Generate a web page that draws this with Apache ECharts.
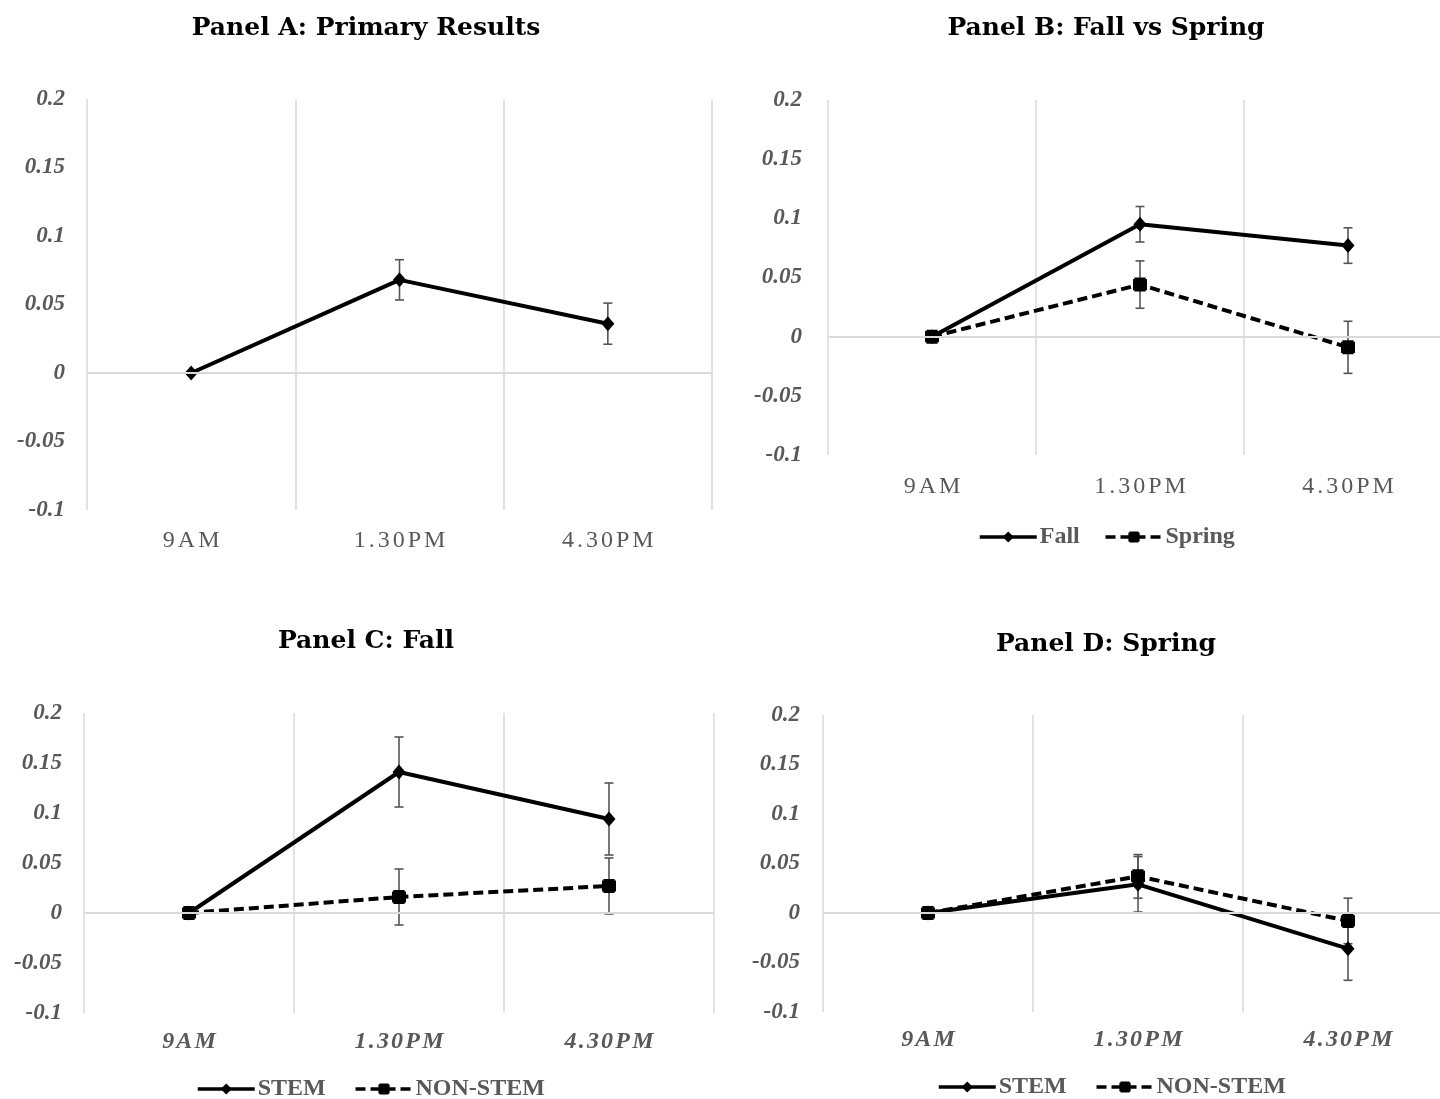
<!DOCTYPE html>
<html><head><meta charset="utf-8">
<script src="https://cdn.jsdelivr.net/npm/echarts@6/dist/echarts.min.js"></script>
<style>html,body{margin:0;padding:0;background:#fff;overflow:hidden}#c{width:1440px;height:1099px}</style>
</head><body><div id="c"></div>
<script>
// ---- data ----
const categories = ['9AM', '1.30PM', '4.30PM'];
const panelTitles = ['Panel A: Primary Results', 'Panel B: Fall vs Spring', 'Panel C: Fall', 'Panel D: Spring'];
const yMin = -0.1, yMax = 0.2, yStep = 0.05;

const primaryA = [0, 0.068, 0.036];
const primaryAErr = [0, 0.0147, 0.015];

const fallB = [0, 0.095, 0.077];
const fallBErr = [0, 0.015, 0.015];
const springB = [0, 0.044, -0.009];
const springBErr = [0, 0.020, 0.022];

const stemC = [0, 0.141, 0.094];
const stemCErr = [0, 0.035, 0.036];
const nonStemC = [0, 0.016, 0.027];
const nonStemCErr = [0, 0.028, 0.028];

const stemD = [0, 0.029, -0.036];
const stemDErr = [0, 0.028, 0.032];
const nonStemD = [0, 0.037, -0.008];
const nonStemDErr = [0, 0.022, 0.023];

// ---- styling helpers ----
const SERIF = 'Liberation Serif';
const GRID_COLOR = '#d9d9d9';
const LABEL_COLOR = '#595959';
const notchedSquare = 'path://M1,0H9V1H10V9H9V10H1V9H0V1H1Z';

function spaced(v) {
  return String(v).split('').map(function (c) { return '{s|' + c + '}'; }).join('');
}
function xAxis(gi, italic, margin, pad) {
  const base = {
    fontFamily: SERIF, fontSize: 24, color: LABEL_COLOR,
    fontStyle: italic ? 'italic' : 'normal', fontWeight: italic ? 'bold' : 'normal'
  };
  return {
    type: 'category', gridIndex: gi, data: categories, boundaryGap: true,
    axisLine: { show: false }, axisTick: { show: false, interval: 0 },
    splitLine: { show: true, interval: 0, lineStyle: { color: GRID_COLOR, width: 1.5 } },
    axisLabel: Object.assign({
      margin: margin, interval: 0, hideOverlap: false, formatter: spaced,
      rich: { s: Object.assign({ padding: [0, pad, 0, pad] }, base) }
    }, base)
  };
}
function yAxis(gi, margin) {
  return {
    type: 'value', gridIndex: gi, min: yMin, max: yMax, interval: yStep,
    axisLine: { show: false }, axisTick: { show: false }, splitLine: { show: false },
    axisLabel: {
      margin: margin, color: LABEL_COLOR, fontFamily: SERIF, fontSize: 23,
      fontStyle: 'italic', fontWeight: 'bold'
    }
  };
}
function lineSeries(gi, name, vals, dashed) {
  return {
    type: 'line', name: name, xAxisIndex: gi, yAxisIndex: gi, data: vals, z: 3,
    symbol: dashed ? notchedSquare : 'diamond',
    symbolSize: dashed ? 14 : [13, 15],
    itemStyle: { color: '#000' },
    lineStyle: { color: '#000', width: 4, type: dashed ? [10, 5] : 'solid' },
    emphasis: { disabled: true }, animation: false
  };
}
function errSeries(gi, vals, errs, withZero) {
  const s = {
    type: 'custom', xAxisIndex: gi, yAxisIndex: gi, z: 2, silent: true, animation: false,
    data: vals.map((v, i) => [i, v - errs[i], v + errs[i]]),
    encode: { x: 0, y: [1, 2] },
    renderItem: function (params, api) {
      const lo = api.coord([api.value(0), api.value(1)]);
      const hi = api.coord([api.value(0), api.value(2)]);
      if (Math.abs(hi[1] - lo[1]) < 0.5) return null;
      const x = lo[0], w = 4.5;
      const style = { stroke: '#555', lineWidth: 1.6 };
      return {
        type: 'group', children: [
          { type: 'line', shape: { x1: x, y1: lo[1], x2: x, y2: hi[1] }, style: style },
          { type: 'line', shape: { x1: x - w, y1: lo[1], x2: x + w, y2: lo[1] }, style: style },
          { type: 'line', shape: { x1: x - w, y1: hi[1], x2: x + w, y2: hi[1] }, style: style }
        ]
      };
    }
  };
  if (withZero) {
    s.markLine = {
      silent: true, symbol: 'none', label: { show: false }, animation: false,
      lineStyle: { color: GRID_COLOR, width: 2, type: 'solid' },
      data: [{ yAxis: 0 }]
    };
  }
  return s;
}
function legend(names, left, top, gap) {
  return {
    data: names, left: left, top: top, padding: 0, itemWidth: 57, itemHeight: 14, itemGap: gap,
    lineStyle: { width: 3.5 },
    textStyle: { fontFamily: SERIF, fontSize: 24, fontWeight: 'bold', color: LABEL_COLOR, padding: [0, 0, 0, -2] },
    selectedMode: false
  };
}
function titleText(text, x, y) {
  return {
    type: 'text', x: x, y: y, silent: true,
    style: { text: text, fill: '#000', font: 'bold 25px "DejaVu Serif"', align: 'center', verticalAlign: 'middle' }
  };
}

const gridBase = { outerBoundsMode: 'none', containLabel: false };
const option = {
  backgroundColor: '#fff',
  animation: false,
  grid: [
    Object.assign({ left: 87, top: 99, width: 625, height: 411 }, gridBase),
    Object.assign({ left: 828, top: 100, width: 624, height: 355 }, gridBase),
    Object.assign({ left: 84, top: 713, width: 630, height: 300 }, gridBase),
    Object.assign({ left: 823, top: 715, width: 630, height: 297 }, gridBase)
  ],
  xAxis: [xAxis(0, false, 19, 1.5), xAxis(1, false, 20, 1.5), xAxis(2, true, 17, 1.1), xAxis(3, true, 16, 1.1)],
  yAxis: [yAxis(0, 22), yAxis(1, 26), yAxis(2, 22), yAxis(3, 23)],
  legend: [
    legend(['Fall', 'Spring'], 978, 525, 24),
    legend(['STEM', 'NON-STEM'], 196, 1077, 28),
    legend(['STEM', 'NON-STEM'], 937, 1075, 28)
  ],
  graphic: [
    titleText(panelTitles[0], 366, 28),
    titleText(panelTitles[1], 1106, 28),
    titleText(panelTitles[2], 366, 641),
    titleText(panelTitles[3], 1106, 644)
  ],
  series: [
    errSeries(0, primaryA, primaryAErr, true),
    lineSeries(0, 'Primary', primaryA, false),

    errSeries(1, fallB, fallBErr, true),
    errSeries(1, springB, springBErr, false),
    lineSeries(1, 'Fall', fallB, false),
    lineSeries(1, 'Spring', springB, true),

    errSeries(2, stemC, stemCErr, true),
    errSeries(2, nonStemC, nonStemCErr, false),
    lineSeries(2, 'STEM', stemC, false),
    lineSeries(2, 'NON-STEM', nonStemC, true),

    errSeries(3, stemD, stemDErr, true),
    errSeries(3, nonStemD, nonStemDErr, false),
    lineSeries(3, 'STEM', stemD, false),
    lineSeries(3, 'NON-STEM', nonStemD, true)
  ]
};
const chart = echarts.init(document.getElementById('c'));
chart.setOption(option);
</script>
</body></html>
